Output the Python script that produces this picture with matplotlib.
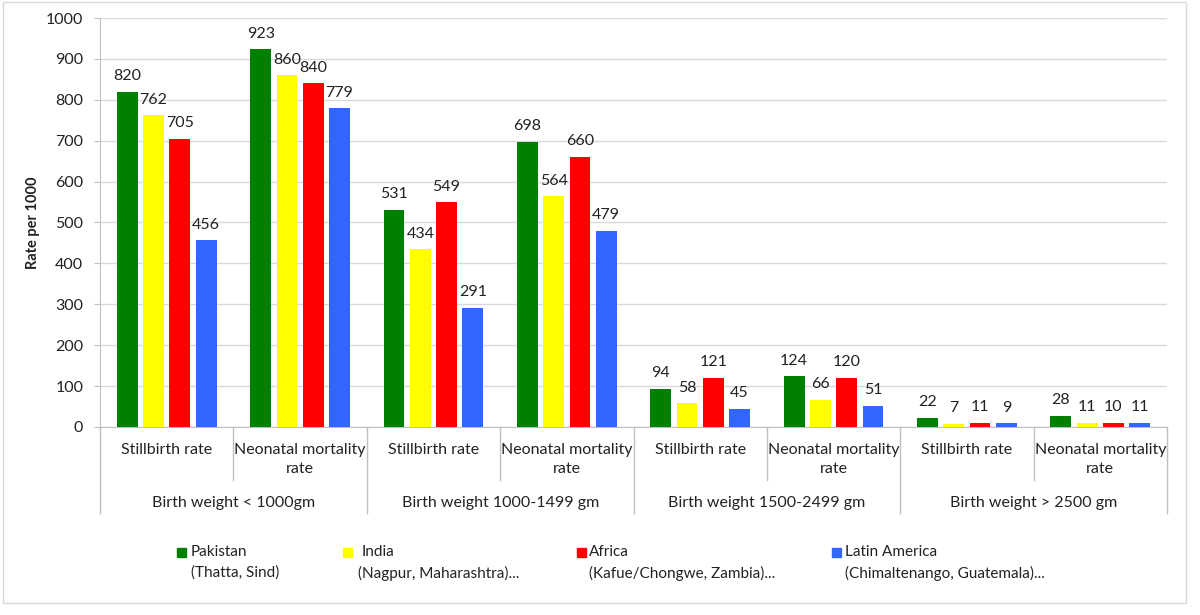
import numpy as np
import matplotlib.pyplot as plt
from matplotlib.patches import Rectangle

plt.rcParams['font.family'] = ['Lato', 'DejaVu Sans']

# Data dari gambar
Kelompok = ["Birth weight < 1000gm", "Birth weight 1000-1499 gm",
            "Birth weight 1500-2499 gm", "Birth weight > 2500 gm"]
SubKategori = [["Stillbirth rate"], ["Neonatal mortality", "rate"]]
Wilayah = ["Pakistan", "India", "Africa", "Latin America"]
Lokasi = ["(Thatta, Sind)", "(Nagpur, Maharashtra)...",
          "(Kafue/Chongwe, Zambia)...", "(Chimaltenango, Guatemala)..."]
Warna = ["#008000", "#FFFF00", "#FF0000", "#3366FF"]

Pakistan = [820, 923, 531, 698, 94, 124, 22, 28]
India = [762, 860, 434, 564, 58, 66, 7, 11]
Africa = [705, 840, 549, 660, 121, 120, 11, 10]
LatinAmerica = [456, 779, 291, 479, 45, 51, 9, 11]
SemuaSeri = [Pakistan, India, Africa, LatinAmerica]

W, H = 1200, 615
fig = plt.figure(figsize=(12, 6.15), dpi=100)
ax = fig.add_axes([100 / W, 1 - 427 / H, (1167 - 100) / W, (427 - 18) / H])

x = np.arange(len(Pakistan))
lebar = 0.156
jarak = 0.197
for i, (nilai, c) in enumerate(zip(SemuaSeri, Warna)):
    bars = ax.bar(x + (i - 1.5) * jarak, nilai, lebar, color=c, zorder=3)
    for b, v in zip(bars, nilai):
        ax.annotate(str(v), (b.get_x() + b.get_width() / 2, v),
                    xytext=(0, 8.4), textcoords='offset points',
                    ha='center', va='baseline', fontsize=11.5, color='#222222')

ax.set_xlim(-0.5, len(x) - 0.5)
ax.set_ylim(0, 1000)
ax.set_yticks(np.arange(0, 1001, 100))
ax.set_xticks([])
ax.grid(axis='y', color='#d9d9d9', linewidth=1, zorder=0)
for s in ['top', 'right']:
    ax.spines[s].set_visible(False)
for s in ['left', 'bottom']:
    ax.spines[s].set_color('#bfbfbf')
ax.tick_params(axis='y', length=4, color='#bfbfbf', pad=8, labelsize=11.5, labelcolor='#222222')

# Sumbu kategori bertingkat
trans = ax.get_xaxis_transform()
def fy(py):
    return (427 - py) / 409

for k in range(len(x) + 1):
    bawah = 513 if k % 2 == 0 else 480
    ax.plot([k - 0.5, k - 0.5], [0, fy(bawah)], color='#bfbfbf', lw=1,
            transform=trans, clip_on=False)

for k in range(len(x)):
    for j, baris in enumerate(SubKategori[k % 2]):
        ax.text(k, fy(450 + 19 * j), baris, transform=trans, ha='center', va='center',
                fontsize=11.5, color='#222222')

for g, nama in enumerate(Kelompok):
    ax.text(2 * g + 0.5, fy(503), nama, transform=trans, ha='center', va='center',
            fontsize=11.5, color='#222222')

fig.text(33 / W, 1 - 223 / H, "Rate per 1000", rotation=90, fontweight='bold',
         fontsize=10.5, ha='center', va='center', color='#222222')

# Legenda manual
KotakX = [177, 343, 577, 832]
TeksX = [191, 358, 589, 845]
for kx, tx, nama, lok, c in zip(KotakX, TeksX, Wilayah, Lokasi, Warna):
    fig.add_artist(Rectangle((kx / W, 1 - 556.5 / H), 8.5 / W, 8.5 / H,
                             transform=fig.transFigure, color=c))
    geser = 4 if nama == "India" else 0
    fig.text((tx + geser) / W, 1 - 552 / H, nama, ha='left', va='center', fontsize=11, color='#222222')
    fig.text(tx / W, 1 - 573 / H, lok, ha='left', va='center', fontsize=11, color='#222222')

fig.add_artist(Rectangle((3 / W, 1 - 603 / H), (1186 - 3) / W, (603 - 2) / H,
                         transform=fig.transFigure, fill=False, edgecolor='#d9d9d9', lw=1))

fig.savefig("out.png", dpi=100)
